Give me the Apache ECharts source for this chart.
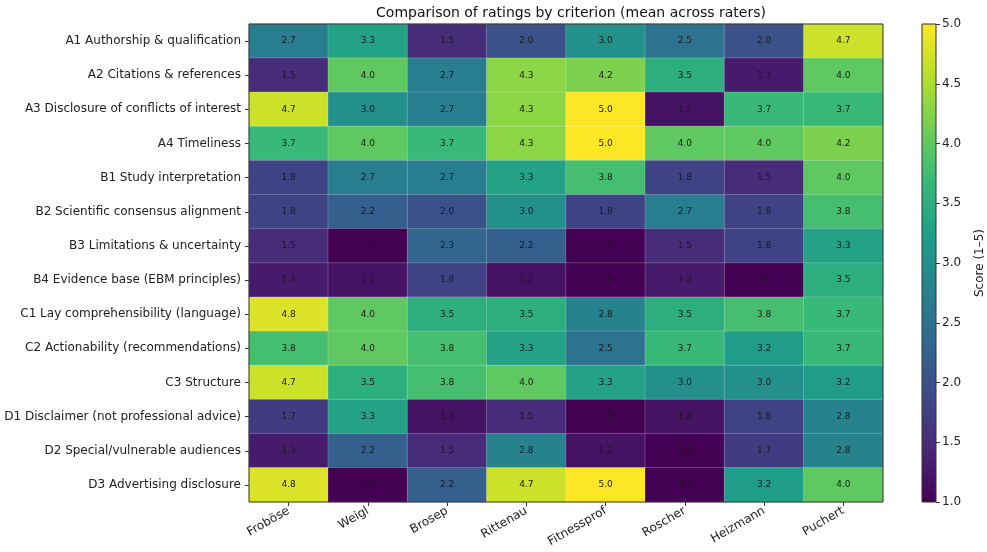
<!DOCTYPE html>
<html><head><meta charset="utf-8">
<script src="https://cdn.jsdelivr.net/npm/echarts@6/dist/echarts.min.js"></script>
<style>html,body{margin:0;padding:0;background:#fff}#c{width:987px;height:552px}</style>
</head><body><div id="c"></div>
<script>
const raters = ['Froböse','Weigl','Brosep','Rittenau','Fitnessprof','Roscher','Heizmann','Puchert'];
const criteria = ['A1 Authorship & qualification','A2 Citations & references','A3 Disclosure of conflicts of interest','A4 Timeliness','B1 Study interpretation','B2 Scientific consensus alignment','B3 Limitations & uncertainty','B4 Evidence base (EBM principles)','C1 Lay comprehensibility (language)','C2 Actionability (recommendations)','C3 Structure','D1 Disclaimer (not professional advice)','D2 Special/vulnerable audiences','D3 Advertising disclosure'];
const A1 = [2.7,3.3,1.5,2.0,3.0,2.5,2.0,4.7];
const A2 = [1.5,4.0,2.7,4.3,4.2,3.5,1.3,4.0];
const A3 = [4.7,3.0,2.7,4.3,5.0,1.2,3.7,3.7];
const A4 = [3.7,4.0,3.7,4.3,5.0,4.0,4.0,4.2];
const B1 = [1.8,2.7,2.7,3.3,3.8,1.8,1.5,4.0];
const B2 = [1.8,2.2,2.0,3.0,1.8,2.7,1.8,3.8];
const B3 = [1.5,1.0,2.3,2.2,1.0,1.5,1.8,3.3];
const B4 = [1.3,1.2,1.8,1.2,1.0,1.3,1.0,3.5];
const C1 = [4.8,4.0,3.5,3.5,2.8,3.5,3.8,3.7];
const C2 = [3.8,4.0,3.8,3.3,2.5,3.7,3.2,3.7];
const C3 = [4.7,3.5,3.8,4.0,3.3,3.0,3.0,3.2];
const D1 = [1.7,3.3,1.2,1.5,1.0,1.2,1.8,2.8];
const D2 = [1.3,2.2,1.5,2.8,1.2,1.0,1.7,2.8];
const D3 = [4.8,1.0,2.2,4.7,5.0,1.0,3.2,4.0];
const rows = [A1,A2,A3,A4,B1,B2,B3,B4,C1,C2,C3,D1,D2,D3];
const scoreMin = 1, scoreMax = 5, scoreStep = 0.5;
const viridis = ['#440154','#482878','#3e4989','#31688e','#26828e','#1f9e89','#35b779','#6ece58','#b5de2b','#fde725'];

const data = [];
rows.forEach((r, i) => r.forEach((v, j) => data.push([j, i, v])));

const font = 'DejaVu Sans, sans-serif';
const chart = echarts.init(document.getElementById('c'));
chart.setOption({
  animation: false,
  textStyle: {fontFamily: font},
  title: {text: 'Comparison of ratings by criterion (mean across raters)', left: 566, textAlign: 'center', top: 1,
    textStyle: {fontFamily: font, fontSize: 14, fontWeight: 'normal', color: '#111'}},
  grid: [
    {left: 249, right: 104, top: 24, bottom: 50, show: true, borderColor: '#333', borderWidth: 1, backgroundColor: 'transparent', z: 3},
    {left: 922, width: 26, top: 24, bottom: 50, show: true, borderColor: '#333', borderWidth: 1, backgroundColor: 'transparent', z: 3}
  ],
  xAxis: [
    {type: 'category', data: raters, gridIndex: 0, axisLine: {show: false}, axisTick: {show: true, alignWithLabel: true, length: 4, lineStyle: {color: '#333'}},
     axisLabel: {rotate: 30, fontSize: 12, color: '#222', margin: 8, fontFamily: font}, splitLine: {show: false}},
    {type: 'category', data: [''], gridIndex: 1, show: false, boundaryGap: true}
  ],
  yAxis: [
    {type: 'category', data: criteria, inverse: true, gridIndex: 0, axisLine: {show: false}, axisTick: {show: true, alignWithLabel: true, length: 4, lineStyle: {color: '#333'}},
     axisLabel: {fontSize: 12, color: '#222', margin: 8, fontFamily: font}},
    {type: 'value', gridIndex: 1, min: scoreMin, max: scoreMax, interval: scoreStep, position: 'right',
     axisLine: {show: false}, axisTick: {show: true, length: 4, lineStyle: {color: '#333'}},
     axisLabel: {formatter: v => v.toFixed(1), fontSize: 12, color: '#222', margin: 6, fontFamily: font},
     splitLine: {show: false},
     name: 'Score (1–5)', nameLocation: 'middle', nameRotate: 90, nameGap: 38,
     nameTextStyle: {fontSize: 12, color: '#222', fontFamily: font}}
  ],
  visualMap: {
    type: 'continuous', min: scoreMin, max: scoreMax, seriesIndex: 0, show: false,
    inRange: {color: viridis}
  },
  series: [{
    type: 'heatmap', xAxisIndex: 0, yAxisIndex: 0, data: data,
    itemStyle: {borderColor: 'rgba(255,255,255,0.35)', borderWidth: 0.6},
    label: {show: true, formatter: p => p.value[2].toFixed(1), fontSize: 9, color: '#1a1a1a', fontFamily: font},
    emphasis: {disabled: true}
  }, {
    type: 'custom', xAxisIndex: 1, yAxisIndex: 1, data: [[0, scoreMin, scoreMax]],
    encode: {x: 0, y: [1, 2]}, silent: true, z: 1,
    renderItem: function (params, api) {
      const top = api.coord([0, api.value(2)]);
      const bot = api.coord([0, api.value(1)]);
      const w = api.size([1, 0])[0];
      return {
        type: 'rect',
        shape: {x: top[0] - w / 2, y: top[1], width: w, height: bot[1] - top[1]},
        style: {fill: new echarts.graphic.LinearGradient(0, 1, 0, 0,
          viridis.map((c, k) => ({offset: k / (viridis.length - 1), color: c})))}
      };
    }
  }]
});
</script></body></html>
